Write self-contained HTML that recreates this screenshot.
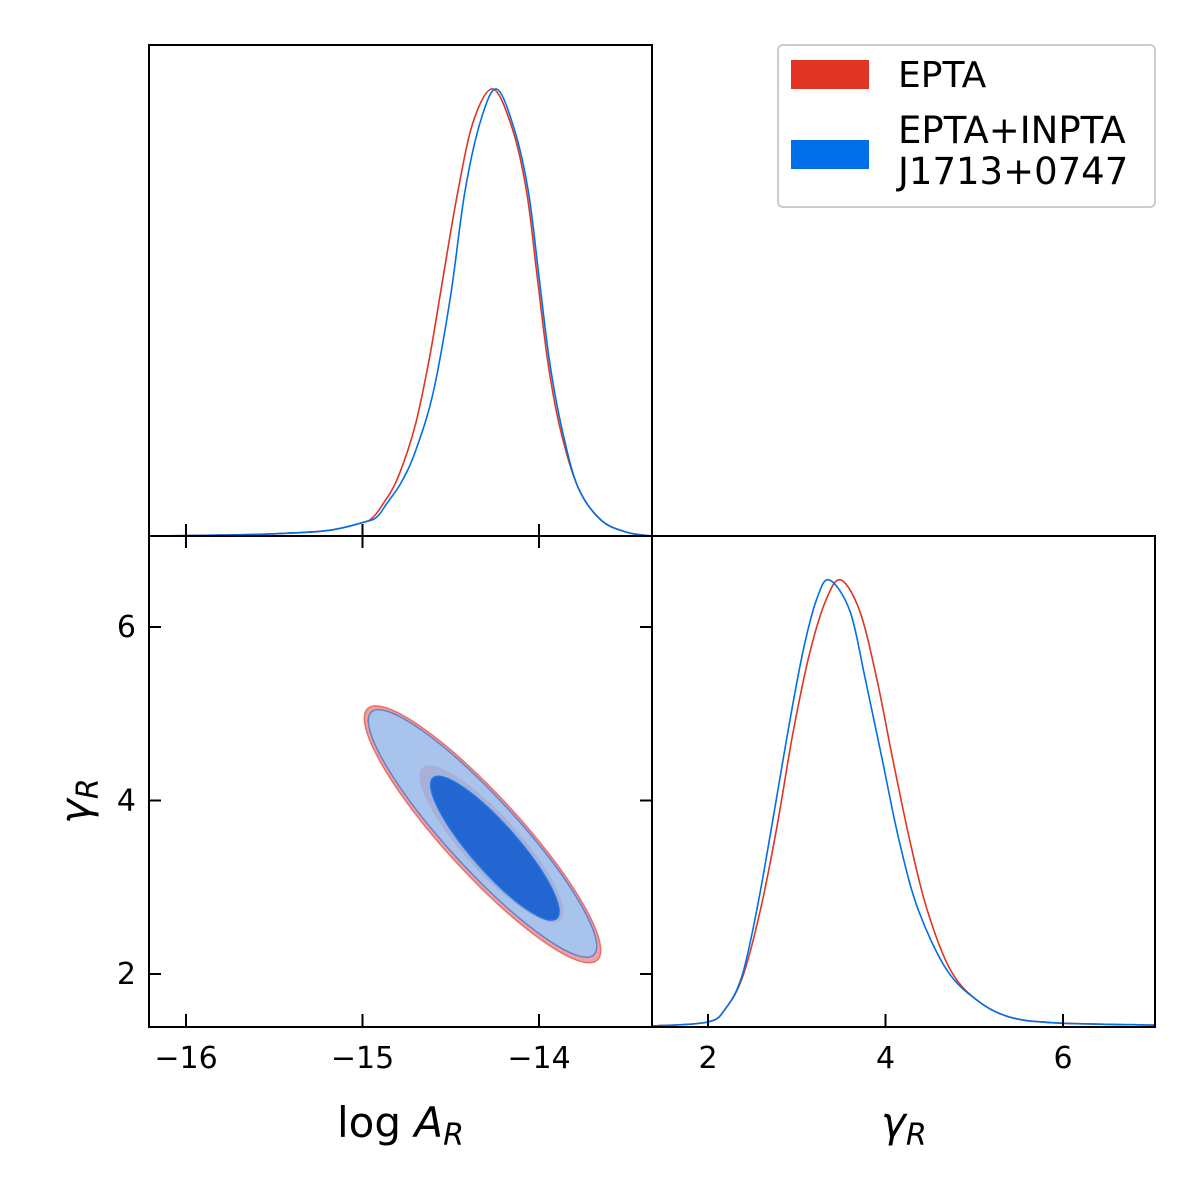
<!DOCTYPE html>
<html><head><meta charset="utf-8"><style>
body{margin:0;background:#fff}
svg text{font-family:"DejaVu Sans","Liberation Sans",sans-serif}
</style></head><body>
<svg id="c" width="1200" height="1200" xmlns="http://www.w3.org/2000/svg" style="position:absolute;left:0;top:0">
<rect width="1200" height="1200" fill="#fff"/>
</svg>
<script>
// ---- data ----
const logAGridRed = [-16.21,-15.8,-15.5,-15.2,-15.0,-14.94,-14.88,-14.80,-14.70,-14.62,-14.56,-14.46,-14.37,-14.26,-14.15,-14.07,-14.01,-13.95,-13.88,-13.78,-13.65,-13.5,-13.36];
const logARed      = [0.0,0.002,0.005,0.012,0.03,0.042,0.074,0.13,0.25,0.40,0.54,0.77,0.93,1.0,0.91,0.77,0.58,0.39,0.24,0.11,0.036,0.008,0.0];
const logAGridBlue = [-16.21,-15.8,-15.5,-15.2,-15.0,-14.92,-14.86,-14.78,-14.70,-14.60,-14.50,-14.42,-14.33,-14.24,-14.14,-14.06,-14.0,-13.94,-13.87,-13.78,-13.65,-13.5,-13.36];
const logABlue     = [0.0,0.002,0.005,0.012,0.03,0.042,0.074,0.12,0.19,0.32,0.54,0.77,0.93,1.0,0.91,0.77,0.58,0.39,0.24,0.11,0.036,0.008,0.0];
const gamGridRed  = [1.37,2.0,2.2,2.39,2.59,2.78,2.96,3.15,3.34,3.50,3.71,3.90,4.08,4.28,4.47,4.73,5.03,5.40,5.93,7.04];
const gamRed      = [0.0,0.009,0.04,0.11,0.26,0.45,0.66,0.84,0.96,1.0,0.93,0.78,0.60,0.41,0.26,0.126,0.058,0.02,0.007,0.002];
const gamGridBlue = [1.37,2.0,2.2,2.38,2.55,2.72,2.90,3.07,3.23,3.37,3.60,3.77,3.96,4.16,4.37,4.69,5.03,5.40,5.93,7.04];
const gamBlue     = [0.0,0.009,0.04,0.11,0.26,0.45,0.66,0.84,0.96,1.0,0.93,0.78,0.60,0.41,0.26,0.126,0.058,0.02,0.007,0.002];
// contours: [centerLogA, centerGamma, endLogA, endGamma, widthFrac]
const outerRedContour  = [-14.32, 3.61, -14.97, 5.06, 0.225];
const outerBlueContour = [-14.32, 3.62, -14.95, 5.02, 0.215];
const innerRedContour  = [-14.27, 3.50, -14.66, 4.38, 0.27];
const innerBlueContour = [-14.25, 3.45, -14.60, 4.26, 0.25];
const logATicks = [-16,-15,-14];
const gamTicks = [2,4,6];

// ---- axes ----
const xA = v => 186 + (v + 16) * 176.5;
const yG = v => 974 - (v - 2) * 86.75;
const xG = v => 708 + (v - 2) * 88.75;
const yTop = v => 536 - v * 447;
const yBR = v => 1026 - v * 446;

const svg = document.getElementById('c');
const NS = 'http://www.w3.org/2000/svg';
function el(tag, attrs, parent){const e=document.createElementNS(NS,tag);for(const k in attrs)e.setAttribute(k,attrs[k]);(parent||svg).appendChild(e);return e;}

function contour(c, fill, stroke, name){
  const cx=xA(c[0]), cy=yG(c[1]), ex=xA(c[2]), ey=yG(c[3]);
  const ux=ex-cx, uy=ey-cy; const a=Math.hypot(ux,uy); const b=a*c[4];
  const ang=Math.atan2(uy,ux)*180/Math.PI;
  const e=el('ellipse',{cx:cx,cy:cy,rx:a,ry:b,transform:`rotate(${ang} ${cx} ${cy})`,fill:fill,stroke:stroke,'stroke-width':1.5});
  
  
}
contour(outerRedContour,'#f0a0a0','#e8706a','contour-95-epta');
contour(outerBlueContour,'#a8c3ec','#6a80c8','contour-95-inpta');
contour(innerRedContour,'#a8b0d8','none','contour-68-epta');
contour(innerBlueContour,'#2366d1','#1a78ea','contour-68-inpta');

function smoothPath(pts){
  let d='M'+pts[0][0].toFixed(1)+' '+pts[0][1].toFixed(1);
  for(let i=0;i<pts.length-1;i++){
    const p0=pts[Math.max(0,i-1)],p1=pts[i],p2=pts[i+1],p3=pts[Math.min(pts.length-1,i+2)];
    const c1x=p1[0]+(p2[0]-p0[0])/6,c1y=p1[1]+(p2[1]-p0[1])/6;
    const c2x=p2[0]-(p3[0]-p1[0])/6,c2y=p2[1]-(p3[1]-p1[1])/6;
    d+=` C${c1x.toFixed(1)} ${c1y.toFixed(1)} ${c2x.toFixed(1)} ${c2y.toFixed(1)} ${p2[0].toFixed(1)} ${p2[1].toFixed(1)}`;
  }
  return d;
}
function line(xs, ys, fx, fy, color, name){
  const pts = xs.map((v,i)=>[fx(v), fy(ys[i])]);
  const p=el('path',{d:smoothPath(pts),fill:'none',stroke:color,'stroke-width':1.6,'stroke-linejoin':'round'});
  
  
}
line(logAGridRed, logARed, xA, yTop, '#e03424', 'logA-epta-curve');
line(logAGridBlue, logABlue, xA, yTop, '#006fe8', 'logA-inpta-curve');
line(gamGridRed, gamRed, xG, yBR, '#e03424', 'gamma-epta-curve');
line(gamGridBlue, gamBlue, xG, yBR, '#006fe8', 'gamma-inpta-curve');

[[149,45,'top-left-panel'],[149,536,'bottom-left-panel'],[652,536,'bottom-right-panel']].forEach(f=>{
  const r=el('rect',{x:f[0],y:f[1],width:503,height:491,fill:'none',stroke:'#000','stroke-width':2});
  
  
});
logATicks.forEach(t=>{
  const x=xA(t);
  el('line',{x1:x,y1:536,x2:x,y2:524,stroke:'#000','stroke-width':2});
  el('line',{x1:x,y1:536,x2:x,y2:548,stroke:'#000','stroke-width':2});
  el('line',{x1:x,y1:1026,x2:x,y2:1014,stroke:'#000','stroke-width':2});
  const tx=el('text',{x:x,y:1068,'font-size':30,'text-anchor':'middle'});tx.textContent=t<0?'\u2212'+(-t):t;
  
  
});
gamTicks.forEach(t=>{
  const y=yG(t);
  el('line',{x1:149,y1:y,x2:161,y2:y,stroke:'#000','stroke-width':2});
  el('line',{x1:652,y1:y,x2:640,y2:y,stroke:'#000','stroke-width':2});
  const ty=el('text',{x:136,y:y+10,'font-size':30,'text-anchor':'end'});ty.textContent=t;
  
  
  const x=xG(t);
  el('line',{x1:x,y1:1026,x2:x,y2:1014,stroke:'#000','stroke-width':2});
  const tx=el('text',{x:x,y:1068,'font-size':30,'text-anchor':'middle'});tx.textContent=t;
  
  
});
</script>
<svg width="1200" height="1200" style="position:absolute;left:0;top:0" xmlns="http://www.w3.org/2000/svg">
<g><text x="337" y="1137" font-size="42" font-family="DejaVu Sans,sans-serif">log <tspan font-style="italic">A</tspan><tspan font-style="italic" font-size="30" dy="8">R</tspan></text></g>
<g><text x="881" y="1137" font-size="42" font-style="italic" font-family="DejaVu Sans,sans-serif">γ<tspan font-size="30" dy="8">R</tspan></text></g>
<g transform="translate(90,800) rotate(-90)"><text x="-24" y="0" font-size="42" font-style="italic" font-family="DejaVu Sans,sans-serif">γ<tspan font-size="30" dy="8">R</tspan></text></g>
<g>
<rect x="778" y="45" width="377" height="162" rx="5" fill="#fff" stroke="#ccc" stroke-width="2"/>
<rect x="791" y="60" width="78" height="29" fill="#e03424"/>
<text x="898" y="87" font-size="36" font-family="DejaVu Sans,sans-serif">EPTA</text>
<rect x="791" y="140" width="78" height="29" fill="#006fe8"/>
<text x="898" y="143" font-size="37" font-family="DejaVu Sans,sans-serif">EPTA+INPTA</text>
<text x="898" y="184" font-size="37" font-family="DejaVu Sans,sans-serif">J1713+0747</text>
</g>
</svg>
</body></html>
